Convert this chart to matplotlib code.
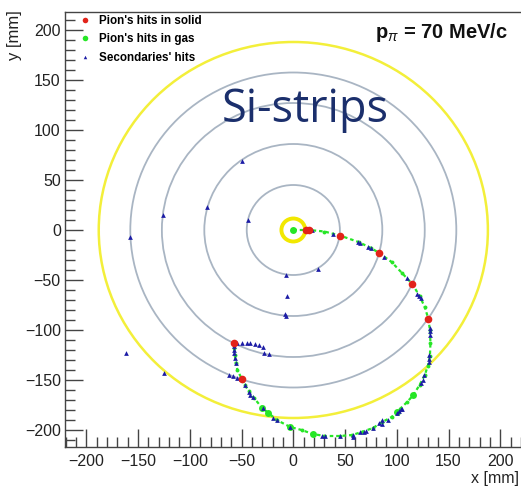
import matplotlib
matplotlib.use("Agg")
import matplotlib.pyplot as plt
from matplotlib.patches import Circle
from matplotlib.ticker import MultipleLocator
from matplotlib.lines import Line2D

plt.rcParams['font.family'] = ['Liberation Sans', 'DejaVu Sans']
plt.rcParams['mathtext.fontset'] = 'custom'
plt.rcParams['mathtext.rm'] = 'Liberation Sans'
plt.rcParams['mathtext.bf'] = 'Liberation Sans:bold'
plt.rcParams['mathtext.it'] = 'Liberation Sans:italic'

# detector layers (mm)
layer_radii = [45, 86, 127, 157.5]
outer_radius = 188
target_radius = 11.5

# pion trajectory (gas hits), read along the track
track_x = [0, 15, 30, 45, 63, 75, 83, 95, 105, 115, 122, 127, 130.4, 132, 132.5,
           132, 130, 127, 122, 116, 110, 103, 95, 86, 77, 66, 57, 45, 30, 19, 8,
           -3, -16, -24, -30, -38, -43, -47, -50, -54, -55.6, -56.5, -57, -57]
track_y = [0, 0, -1.5, -5.5, -12, -18, -23, -32, -43, -54, -66, -77, -88.5, -100,
           -113, -126, -136, -145, -155, -165, -172, -179, -187, -192, -198, -202,
           -205, -206, -206, -204, -200, -197, -190, -183, -178, -168, -161, -155,
           -148.5, -140, -133, -125, -118, -113]
big_gas_x = [0, -3, 19, 116, -24, -30, 100]
big_gas_y = [0, -197, -204, -165, -183, -178, -182]

# pion hits in solid
solid_x = [12, 15, 45, 83, 115, 130.4, -57, -50]
solid_y = [0, 0, -5.5, -23, -54, -88.5, -113, -148.5]

# secondaries
sec_x = [-50, -83, -126, -158, -44, -7.5, 24, -6, -8, -7.5, -162, -125,
         -54.7, -50, -45, -41.8, -37, -32.8, -29, -28.3, -23.5,
         -62, -58, -54,
         16, 18, 38.7, 62.8, 64.4, 72.4, 74.6, 88, 109.6, 119.7, 121.4, 123,
         132, 132, 132, 131.4, 131.4, 130.7, 126.6, 125, 123.4, 103.8, 102.5,
         86, 82.8, 77.3, 70.2, 68.3, 64.4, 57.4, 57.4, 45, 30.6, 27.4, -3.2,
         -16, -19.3, -29, -38.6, -41.8, -42.5, -46.7, -50.6, -55.6, -56.3, -57,
         -57, -57, 85.4, 91.8, 100, 104.7]
sec_y = [69, 23, 15, -6.5, 10, -45, -39, -65.5, -84, -86, -123, -143,
         -113, -112.5, -112.7, -113, -114, -115.3, -117.3, -123.3, -124.3,
         -144.5, -146, -147.5,
         0, 0.5, -4, -11.7, -12.7, -17.3, -18.3, -26.7, -47.7, -64.3, -66, -67.7,
         -98.3, -100.7, -105, -125, -129.3, -131.7, -145, -150, -153.3, -179, -180.5,
         -190, -192.7, -197.5, -201, -201.7, -202.3, -205, -207, -205.7, -206, -206, -196.7,
         -190, -187.7, -178.3, -167, -165, -161.7, -155, -149.3, -133.3, -128.3, -123.3,
         -120, -116, -194.3, -190, -183.3, -179.3]

fig = plt.figure(figsize=(5.21, 4.88), dpi=100)
W, H = 521, 488
ax = fig.add_axes([65 / W, (H - 447) / H, (540 - 65) / W, (447 - 12) / H])
ax.set_xlim(-220.6, (540 - 293.3) / 1.035)
ax.set_ylim(-217, 218)

for r in layer_radii:
    ax.add_patch(Circle((0, 0), r, fill=False, ec='#a9b5c3', lw=1.3, zorder=1))
ax.add_patch(Circle((0, 0), outer_radius, fill=False, ec='#f3ef3a', lw=1.8, zorder=1))
ax.add_patch(Circle((0, 0), target_radius, fill=False, ec='#f2e800', lw=2.8, zorder=1))

gas_col = '#26e626'
ax.plot(track_x, track_y, color=gas_col, lw=1.6, ls=(0, (1.6, 1.3)), zorder=2)
ax.plot(track_x, track_y, 'o', color=gas_col, ms=2.8, mew=0, zorder=2)
ax.plot(big_gas_x, big_gas_y, 'o', color=gas_col, ms=5, mew=0, zorder=2)
ax.plot(sec_x, sec_y, '^', color='#1c1ca6', ms=3.4, mew=0, zorder=3)
ax.plot(solid_x, solid_y, 'o', color='#e2231a', ms=5.5, mew=0, zorder=4)

ax.xaxis.set_major_locator(MultipleLocator(50))
ax.xaxis.set_minor_locator(MultipleLocator(10))
ax.yaxis.set_major_locator(MultipleLocator(50))
ax.yaxis.set_minor_locator(MultipleLocator(10))
ax.tick_params(which='both', direction='in', top=False, right=False,
               color='#444444', width=1.0, labelsize=11.5, labelcolor='#222222')
ax.tick_params(which='major', length=13)
ax.tick_params(which='minor', length=7)
ax.tick_params(axis='y', pad=3)
ax.tick_params(axis='x', pad=5)
for side in ['top', 'left', 'bottom']:
    ax.spines[side].set_color('#444444')
    ax.spines[side].set_linewidth(1.0)
ax.spines['right'].set_visible(False)

fig.text(15 / W, 1 - 10 / H, 'y [mm]', rotation=90, ha='center', va='top', fontsize=12,
         color='#222222')
fig.text(519 / W, 1 - 479 / H, 'x [mm]', ha='right', va='center', fontsize=11.5,
         color='#222222')

handles = [Line2D([], [], ls='', marker='o', color='#e2231a', ms=4, mew=0),
           Line2D([], [], ls='', marker='o', color=gas_col, ms=4, mew=0),
           Line2D([], [], ls='', marker='^', color='#1c1ca6', ms=2.5, mew=0)]
labels = ["Pion's hits in solid", "Pion's hits in gas", "Secondaries' hits"]
ax.legend(handles, labels, loc='upper left', bbox_to_anchor=(79 / W, 1 - 15 / H),
          bbox_transform=fig.transFigure, frameon=False, borderpad=0, borderaxespad=0,
          handlelength=1.0, handletextpad=0.7, labelspacing=0.55,
          prop={'weight': 'bold', 'size': 8.4})

fig.text(375 / W, 1 - 33 / H, r'$\mathbf{p}_{\pi}$ = 70 MeV/c', ha='left', va='center',
         fontsize=14.5, fontweight='bold', color='#111111')
fig.text(305 / W, 1 - 110 / H, 'Si-strips', ha='center', va='center',
         fontsize=32.5, family='Open Sans', color='#1b2f6c')

fig.savefig('out.png', dpi=100)
